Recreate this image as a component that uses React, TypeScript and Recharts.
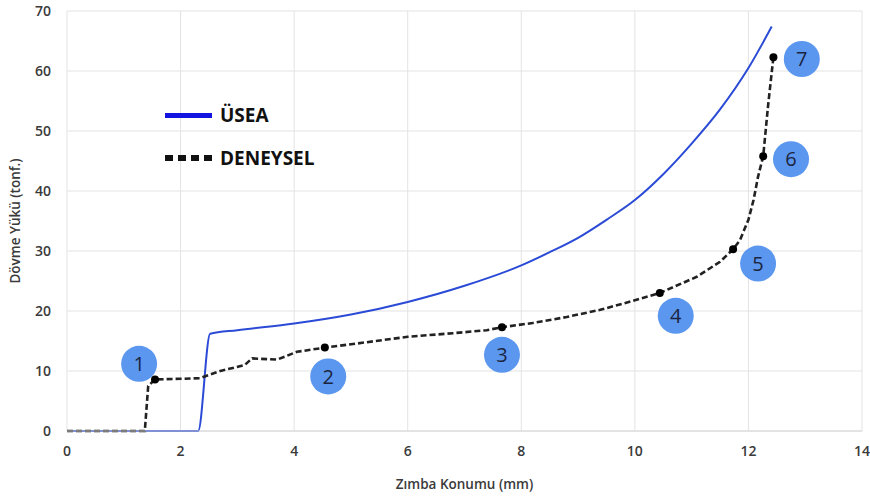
import React from 'react';
import {
  ComposedChart,
  Line,
  Scatter,
  XAxis,
  YAxis,
  CartesianGrid,
  Label,
} from 'recharts';

// ÜSEA (simulation) curve
const useaX = [0, 2.31, 2.52, 3, 4, 5, 6, 7, 8, 8.5, 9, 9.5, 10, 10.5, 11, 11.5, 12, 12.41];
const useaY = [0, 0, 16.2, 16.8, 17.9, 19.4, 21.5, 24.2, 27.6, 29.8, 32.2, 35.2, 38.5, 42.8, 47.9, 53.6, 60.5, 67.4];

// DENEYSEL (experimental) curve
const deneyX = [0, 1.37, 1.43, 1.55, 2.0, 2.34, 2.7, 3.13, 3.26, 3.7, 4.05, 4.54, 5.2, 6.0, 6.8, 7.39, 7.66, 8.2, 8.8, 9.39, 9.97, 10.44, 11.09, 11.5, 11.73, 11.85, 12.0, 12.09, 12.17, 12.26, 12.35, 12.44];
const deneyY = [0, 0, 7.5, 8.6, 8.7, 8.8, 10, 11, 12.1, 11.9, 13.2, 13.9, 14.7, 15.7, 16.3, 16.8, 17.3, 18, 19, 20.2, 21.7, 23, 25.7, 28.2, 30.3, 31.8, 35.2, 38.5, 42.4, 45.8, 54.6, 62.3];

// marked stages on the experimental curve
const stageX = [1.55, 4.54, 7.66, 10.44, 11.73, 12.26, 12.44];
const stageY = [8.6, 13.9, 17.3, 23, 30.3, 45.8, 62.3];

// numbered badges next to the stages
const badgeX = [1.27, 4.6, 7.66, 10.72, 12.17, 12.75, 12.94];
const badgeY = [11.2, 9.1, 12.7, 19.2, 27.9, 45.3, 62];
const badgeText = ['1', '2', '3', '4', '5', '6', '7'];

const xTicks = [0, 2, 4, 6, 8, 10, 12, 14];
const yTicks = [0, 10, 20, 30, 40, 50, 60, 70];

const useaData = useaX.map((x, i) => ({ x, y: useaY[i] }));
const deneyData = deneyX.map((x, i) => ({ x, y: deneyY[i] }));
const stageData = stageX.map((x, i) => ({ x, y: stageY[i] }));
const badgeData = badgeX.map((x, i) => ({ x, y: badgeY[i], label: badgeText[i] }));

const FONT = '"Open Sans", "Segoe UI", sans-serif';
const tickStyle = { fontSize: 14, fontWeight: 600, fill: '#3a3a3a', fontFamily: FONT };
const titleStyle = { fontSize: 13.5, fontWeight: 600, fill: '#3a3a3a', fontFamily: FONT };

const Badge = (props: any) => {
  const { cx, cy, payload } = props;
  return (
    <g>
      <circle cx={cx} cy={cy} r={18} fill="#5b97ef" />
      <text
        x={cx}
        y={cy}
        dy="0.36em"
        textAnchor="middle"
        fontSize={20}
        fontFamily={FONT}
        fill="#1b2540"
      >
        {payload.label}
      </text>
    </g>
  );
};

const StageDot = (props: any) => {
  const { cx, cy } = props;
  return <circle cx={cx} cy={cy} r={4} fill="#000" />;
};

// legend sits inside the plot, top-left
const LegendBox = () => (
  <div
    style={{
      position: 'absolute',
      left: 165,
      top: 102,
      fontFamily: FONT,
      fontWeight: 700,
      fontSize: 19,
      color: '#111',
    }}
  >
    <div style={{ display: 'flex', alignItems: 'center', height: 26 }}>
      <div style={{ width: 47, height: 5, background: '#1414e0', marginRight: 8 }} />
      <span>ÜSEA</span>
    </div>
    <div style={{ display: 'flex', alignItems: 'center', height: 26, marginTop: 17 }}>
      <div style={{ width: 47, marginRight: 8, display: 'flex', justifyContent: 'space-between' }}>
        {[0, 1, 2, 3].map(i => (
          <div key={i} style={{ width: 8, height: 6, background: '#111' }} />
        ))}
      </div>
      <span>DENEYSEL</span>
    </div>
  </div>
);

export default function App() {
  return (
    <div style={{ position: 'absolute', left: 0, top: 0, width: 870, height: 498, background: '#fff' }}>
      <ComposedChart
        width={870}
        height={498}
        margin={{ top: 11, right: 8, left: 0, bottom: 0 }}
      >
        <CartesianGrid stroke="#e3e3e3" strokeWidth={1} />
        <XAxis
          type="number"
          dataKey="x"
          domain={[0, 14]}
          ticks={xTicks}
          allowDataOverflow
          height={67}
          tickLine={false}
          axisLine={{ stroke: '#d6d6d6' }}
          tickMargin={9}
          tick={tickStyle}
        >
          <Label value="Zımba Konumu (mm)" position="insideBottom" offset={9} style={titleStyle} />
        </XAxis>
        <YAxis
          type="number"
          dataKey="y"
          domain={[0, 70]}
          ticks={yTicks}
          width={67}
          tickLine={false}
          axisLine={false}
          tickMargin={10}
          tick={tickStyle}
        >
          <Label
            value="Dövme Yükü (tonf.)"
            angle={-90}
            position="insideLeft"
            offset={15}
            style={{ ...titleStyle, textAnchor: 'middle' }}
          />
        </YAxis>
        <Line
          data={useaData}
          dataKey="y"
          type="monotone"
          stroke="#2b4bd6"
          strokeWidth={2}
          dot={false}
          activeDot={false}
          isAnimationActive={false}
          name="ÜSEA"
        />
        <Line
          data={deneyData}
          dataKey="y"
          type="linear"
          stroke="#222"
          strokeWidth={2.6}
          strokeDasharray="6 3"
          dot={false}
          activeDot={false}
          isAnimationActive={false}
          name="DENEYSEL"
        />
        <Scatter data={stageData} dataKey="y" shape={<StageDot />} isAnimationActive={false} />
        <Scatter data={badgeData} dataKey="y" shape={<Badge />} isAnimationActive={false} />
      </ComposedChart>
      <LegendBox />
    </div>
  );
}
